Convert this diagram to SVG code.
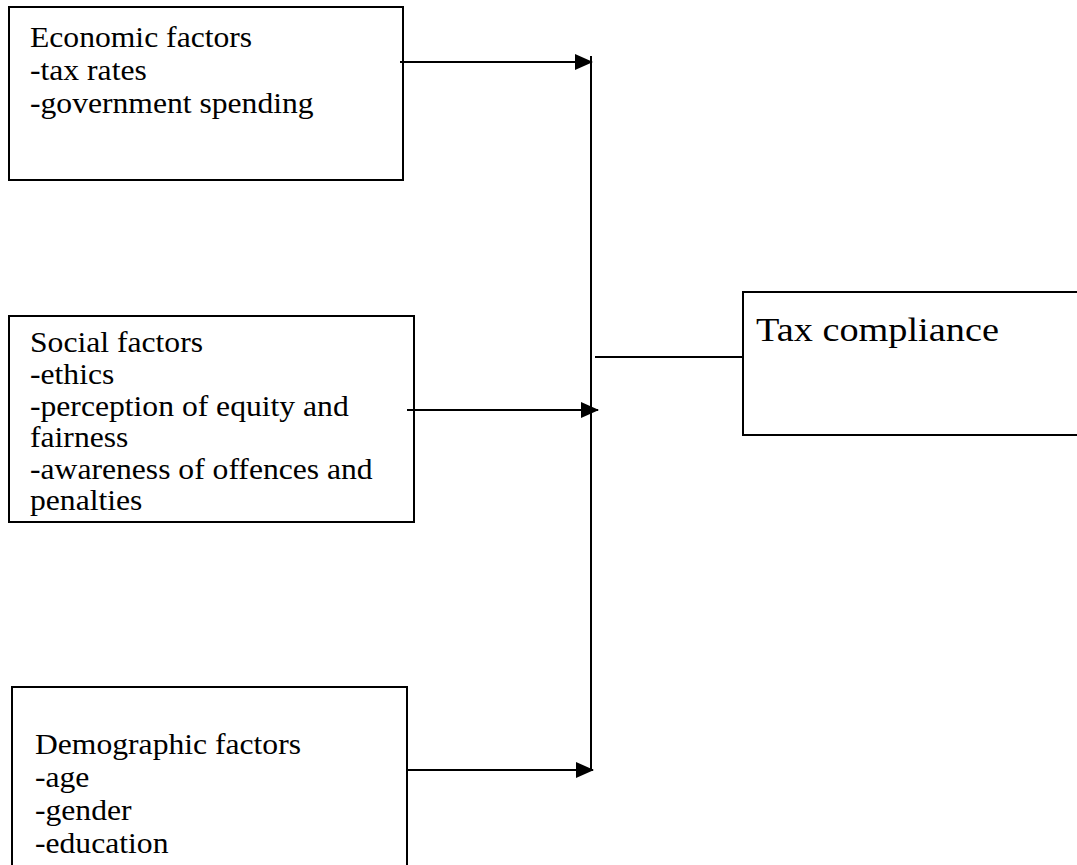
<svg xmlns="http://www.w3.org/2000/svg" width="1077" height="865" viewBox="0 0 1077 865">
<style>
.box{fill:#fff;stroke:#000;stroke-width:2}
.ln{fill:none;stroke:#000;stroke-width:2}
.t{font-family:"Liberation Serif","Times New Roman",serif;font-size:28.5px;fill:#000}
.tb{font-family:"Liberation Serif","Times New Roman",serif;font-size:34.5px;fill:#000}
</style>
<defs>
<marker id="ah" markerUnits="userSpaceOnUse" markerWidth="18" markerHeight="16" refX="17" refY="8" orient="auto">
<path d="M0,0 L18,8 L0,16 z" fill="#000"/>
</marker>
</defs>
<rect width="1077" height="865" fill="#fff"/>
<g id="economic">
<rect class="box" x="9" y="7" width="394" height="173"/>
<g transform="translate(30 0) scale(1.11 1)">
<text class="t" x="0" y="47">Economic factors</text>
<text class="t" x="0" y="80">-tax rates</text>
<text class="t" x="0" y="113">-government spending</text>
</g>
</g>
<g id="social">
<rect class="box" x="9" y="316" width="405" height="206"/>
<g transform="translate(30 0) scale(1.11 1)">
<text class="t" x="0" y="352">Social factors</text>
<text class="t" x="0" y="384">-ethics</text>
<text class="t" x="0" y="416">-perception of equity and</text>
<text class="t" x="0" y="447">fairness</text>
<text class="t" x="0" y="479">-awareness of offences and</text>
<text class="t" x="0" y="510">penalties</text>
</g>
</g>
<g id="demographic">
<rect class="box" x="12" y="687" width="395" height="190"/>
<g transform="translate(35 0) scale(1.11 1)">
<text class="t" x="0" y="754">Demographic factors</text>
<text class="t" x="0" y="787">-age</text>
<text class="t" x="0" y="820">-gender</text>
<text class="t" x="0" y="853">-education</text>
</g>
</g>
<g id="tax">
<rect class="box" x="743" y="292" width="345" height="143"/>
<g transform="translate(756 0) scale(1.11 1)">
<text class="tb" x="0" y="341">Tax compliance</text>
</g>
</g>
<g id="connectors">
<line class="ln" x1="400" y1="62" x2="592" y2="62" marker-end="url(#ah)"/>
<line class="ln" x1="407" y1="410" x2="598" y2="410" marker-end="url(#ah)"/>
<line class="ln" x1="407" y1="770" x2="593" y2="770" marker-end="url(#ah)"/>
<line class="ln" x1="591" y1="56" x2="591" y2="771"/>
<line class="ln" x1="595" y1="357" x2="743" y2="357"/>
</g>
</svg>
